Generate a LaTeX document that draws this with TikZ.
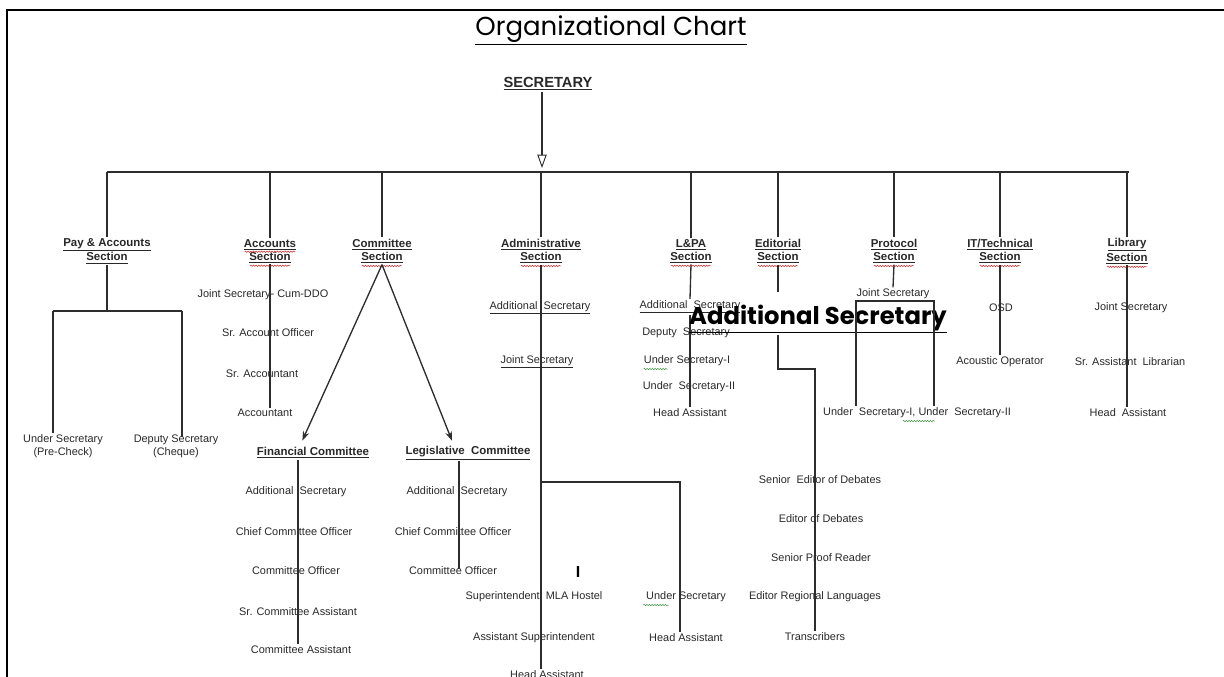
\documentclass[tikz,border=0pt]{standalone}
\usepackage{fontspec}
\setmainfont{Liberation Sans}
\newfontfamily\gothicfont{Poppins}
\usetikzlibrary{arrows.meta, positioning, calc, decorations.pathmorphing}
\definecolor{InkColor}{RGB}{40,40,40}
\definecolor{LineColor}{RGB}{45,45,45}
\definecolor{SpellColor}{RGB}{205,45,45}
\definecolor{GrammarColor}{RGB}{70,150,70}
\tikzstyle{link} = [LineColor, line width=1pt]
\tikzstyle{pointer} = [link, -{Stealth[length=7pt, width=5pt]}]
\tikzstyle{staff} = [text=InkColor, inner sep=1pt, align=center, font=\fontsize{8.2}{9.75}\selectfont]
\tikzstyle{sectionhead} = [staff, font=\bfseries\fontsize{8.6}{9.75}\selectfont]
\tikzset{
  title text/.style={text=black, inner sep=1pt, font=\gothicfont\fontsize{19.5}{24}\selectfont},
  big post/.style={text=black, inner sep=1pt, font=\gothicfont\bfseries\fontsize{18.2}{20}\selectfont},
  chief/.style={text=InkColor, inner sep=1pt, font=\bfseries\fontsize{11}{13}\selectfont},
  chief arrow/.style={LineColor, line width=2.2pt, shorten >=3pt, -{Triangle[open, length=10pt, width=7pt, line width=0.7pt]}},
  spellmark/.style={SpellColor, line width=0.4pt, decorate, decoration={snake, amplitude=0.5pt, segment length=2pt}},
  grammark/.style={GrammarColor, line width=0.4pt, decorate, decoration={snake, amplitude=0.5pt, segment length=2pt}},
  frame/.style={black, line width=1.6pt}
}

\begin{document}
\begin{tikzpicture}[x=0.75pt, y=-0.75pt]
  \useasboundingbox (0,0) rectangle (1224,677);
  \draw[frame] (7,677) -- (7,10) -- (1224,10);

  % Title and Secretary
  \node[title text] (title) at (611,30) {\underline{Organizational Chart}};
  \node[chief] (secretary) at (548,84) {\underline{SECRETARY}};
  \coordinate (busjoin) at (542,172);
  \draw[chief arrow] (secretary.south -| busjoin) -- (busjoin);

  % Main bus
  \coordinate (busL) at (107,172);
  \coordinate (busR) at (1129,172);
  \draw[link] (busL) -- (busR);

  % Sections
  \node[sectionhead] (payhead) at (107,251) {\underline{Pay \& Accounts}\\\underline{Section}};
  \node[sectionhead] (acchead) at (270,251) {\underline{Accounts}\\\underline{Section}};
  \node[sectionhead] (comhead) at (382,251) {\underline{Committee}\\\underline{Section}};
  \node[sectionhead] (admhead) at (541,251) {\underline{Administrative}\\\underline{Section}};
  \node[sectionhead] (lpahead) at (691,251) {\underline{L\&PA}\\\underline{Section}};
  \node[sectionhead] (edihead) at (778,251) {\underline{Editorial}\\\underline{Section}};
  \node[sectionhead] (prohead) at (894,251) {\underline{Protocol}\\\underline{Section}};
  \node[sectionhead] (ithead) at (1000,251) {\underline{IT/Technical}\\\underline{Section}};
  \node[sectionhead] (libhead) at (1127,251) {\underline{Library}\\\underline{Section}};

  \draw[link] (payhead.north |- busL) -- (payhead.north);
  \draw[link] (acchead.north |- busL) -- (acchead.north);
  \draw[link] (comhead.north |- busL) -- (comhead.north);
  \draw[link] (admhead.north |- busL) -- (admhead.north);
  \draw[link] (lpahead.north |- busL) -- (lpahead.north);
  \draw[link] (edihead.north |- busL) -- (edihead.north);
  \draw[link] (prohead.north |- busL) -- (prohead.north);
  \draw[link] (ithead.north |- busL) -- (ithead.north);
  \draw[link] (libhead.north |- busL) -- (libhead.north);

  % Spell check marks
  \draw[spellmark] ([xshift=-19pt,yshift=9.5pt]acchead.south) -- ++(38pt,0);
  \draw[spellmark] ([xshift=-15pt,yshift=-1pt]acchead.south) -- ++(30pt,0);
  \draw[spellmark] ([xshift=-15pt,yshift=-1pt]comhead.south) -- ++(30pt,0);
  \draw[spellmark] ([xshift=-15pt,yshift=-1pt]admhead.south) -- ++(30pt,0);
  \draw[spellmark] ([xshift=-15pt,yshift=-1pt]lpahead.south) -- ++(30pt,0);
  \draw[spellmark] ([xshift=-15pt,yshift=-1pt]edihead.south) -- ++(30pt,0);
  \draw[spellmark] ([xshift=-15pt,yshift=-1pt]prohead.south) -- ++(30pt,0);
  \draw[spellmark] ([xshift=-15pt,yshift=-1pt]ithead.south) -- ++(30pt,0);
  \draw[spellmark] ([xshift=-15pt,yshift=-1pt]libhead.south) -- ++(30pt,0);

  % Pay & Accounts
  \coordinate (payL) at (53,311);
  \coordinate (payR) at (182,311);
  \node[staff] (undsecpc) at (63,446) {Under Secretary\\(Pre-Check)};
  \node[staff] (depsecch) at (176,446) {Deputy Secretary\\(Cheque)};
  \draw[link] (payhead.south) -- (payhead.south |- payL);
  \draw[link] (payL) -- (payR);
  \draw[link] (payL) -- (payL |- undsecpc.north);
  \draw[link] (payR) -- ([yshift=-3pt]payR |- depsecch.north);

  % Accounts
  \node[staff] (accjs) at (263,295) {Joint Secretary- Cum-DDO};
  \node[staff] (accsao) at (268,333) {Sr. Account Officer};
  \node[staff] (accsa) at (262,374) {Sr. Accountant};
  \node[staff] (accac) at (265,413) {Accountant};
  \draw[link] (acchead.south) -- (acchead.south |- accac.north);

  % Committee
  \node[sectionhead] (fincom) at (313,453) {\underline{Financial Committee}};
  \node[sectionhead] (legcom) at (468,453) {\underline{Legislative\ \ Committee}};
  \draw[pointer] (comhead.south) -- ([xshift=-8pt,yshift=4pt]fincom.north);
  \draw[pointer] (comhead.south) -- ([xshift=-12pt,yshift=3pt]legcom.north);

  \node[staff] (finas) at (296,492) {Additional\ \ Secretary};
  \node[staff] (fincco) at (294,532) {Chief Committee Officer};
  \node[staff] (finco) at (296,571) {Committee Officer};
  \node[staff] (finsca) at (298,612) {Sr. Committee Assistant};
  \node[staff] (finca) at (301,650) {Committee Assistant};
  \draw[link] (finsca |- fincom.south) -- (finsca |- finca.north);

  \node[staff] (legas) at (457,492) {Additional\ \ Secretary};
  \node[staff] (legcco) at (453,532) {Chief Committee Officer};
  \node[staff] (legco) at (453,571) {Committee Officer};
  \draw[link] ([xshift=1.5pt]legas |- legcom.south) -- ([xshift=1.5pt,yshift=-3pt]legas |- legco.north);

  % Administrative
  \node[staff] (admas) at (540,308) {\underline{Additional\ \ Secretary}};
  \node[staff] (admjs) at (537,362) {\underline{Joint Secretary}};
  \coordinate (admjoin) at (541,482);
  \coordinate (admright) at (680,482);
  \node[staff] (admsup) at (534,597) {Superintendent\ \ MLA Hostel};
  \node[staff] (admasup) at (534,638) {Assistant\ Superintendent};
  \node[staff] (admha) at (547,675) {Head\ Assistant};
  \node[text=black, inner sep=0pt, font=\bfseries\fontsize{12}{14}\selectfont] (admmark) at (578,572) {I};
  \node[staff] (admus) at (686,597) {Under Secretary};
  \node[staff] (admusha) at (686,638) {Head Assistant};
  \draw[link] (admhead.south) -- (admhead.south |- admha.north);
  \draw[link] (admjoin) -- (admright) -- (admright |- admusha.north);
  \draw[grammark] ([xshift=-1pt,yshift=-1pt]admus.south west) -- ++(19pt,0);

  % L&PA
  \node[staff] (lpaas) at (690,307) {\underline{Additional\ \ Secretary}};
  \node[staff] (lpads) at (686,333) {Deputy\ \ Secretary};
  \node[staff] (lpaus1) at (687,361) {Under Secretary-I};
  \node[staff] (lpaus2) at (689,387) {Under\ \ Secretary-II};
  \node[staff] (lpaha) at (690,413) {Head Assistant};
  \draw[link] (lpahead.south) -- (lpaas.north);
  \draw[link] (lpaas.south) -- (lpaas.south |- lpaha.north);
  \draw[grammark] ([xshift=1pt,yshift=-1pt]lpaus1.south west) -- ++(18pt,0);

  % Editorial
  \coordinate (edistop) at (778,292);
  \node[big post] (bigas) at (818,319) {\underline{Additional Secretary}};
  \coordinate (edibend) at (778,369);
  \coordinate (edidrop) at (815,369);
  \node[staff] (edised) at (820,480) {Senior\ \ Editor of Debates};
  \node[staff] (ediod) at (821,519) {Editor of Debates};
  \node[staff] (edispr) at (821,558) {Senior\ Proof Reader};
  \node[staff] (edierl) at (815,597) {Editor\ Regional Languages};
  \node[staff] (editr) at (815,637) {Transcribers};
  \draw[link] (edihead.south) -- (edistop);
  \draw[link] (bigas.south -| edibend) -- (edibend) -- (edidrop) -- (edidrop |- editr.north);

  % Protocol
  \node[staff] (projs) at (893,294) {Joint Secretary};
  \coordinate (proL) at (856,301);
  \coordinate (proR) at (934,301);
  \node[staff] (prous) at (917,413) {Under\ \ Secretary-I, Under\ \ Secretary-II};
  \draw[link] (prohead.south) -- (projs.north);
  \draw[link] (proL |- prous.north) -- (proL) -- (proR) -- (proR |- prous.north);
  \draw[grammark] ([xshift=61pt,yshift=-1pt]prous.south west) -- ++(24pt,0);

  % IT/Technical
  \node[staff] (itosd) at (1001,308) {OSD};
  \node[staff] (itao) at (1000,362) {Acoustic Operator};
  \draw[link] (ithead.south) -- (ithead.south |- itao.north);

  % Library
  \node[staff] (libjs) at (1131,308) {Joint Secretary};
  \node[staff] (libsal) at (1130,362) {Sr. Assistant\ \ Librarian};
  \node[staff] (libha) at (1128,413) {Head\ \ Assistant};
  \draw[link] (libhead.south) -- (libhead.south |- libha.north);
\end{tikzpicture}
\end{document}
